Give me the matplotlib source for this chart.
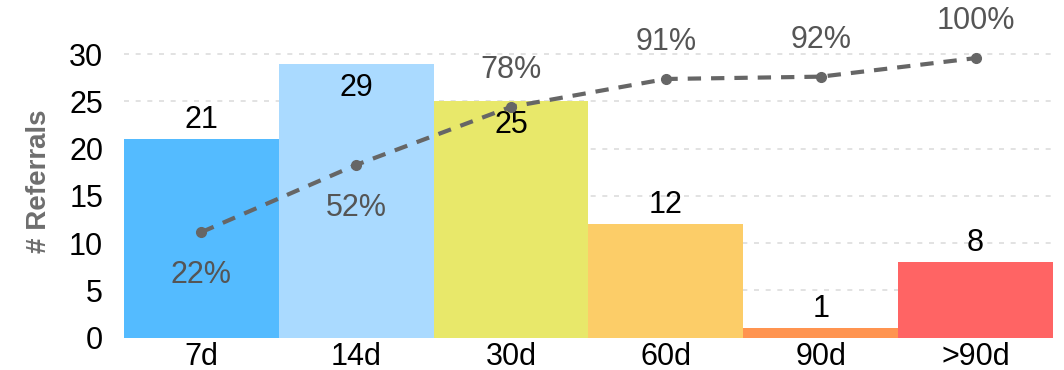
import matplotlib
matplotlib.use("Agg")
import matplotlib.pyplot as plt
import numpy as np

# Referral counts by time bucket
categories = ["7d", "14d", "30d", "60d", "90d", ">90d"]
referrals = [21, 29, 25, 12, 1, 8]
bar_colors = ["#54BBFF", "#AADAFF", "#E8E86A", "#FCCD68", "#FF9450", "#FF6464"]

# Cumulative share of referrals and where each label sits
counts = np.array(referrals, dtype=float)
cumulative = np.cumsum(counts) / counts.sum()
pct_labels = [f"{round(v * 100):d}%" for v in cumulative]
pct_above = [False, False, True, True, True, True]
count_inside = [False, True, True, False, False, False]

plt.rcParams["font.family"] = ["Liberation Sans", "DejaVu Sans"]
FS = 22

fig = plt.figure(figsize=(10.64, 3.70), dpi=100)
ax = fig.add_axes([0.1165, 0.0873, 0.8732, 0.843])

x = np.arange(len(categories))
ax.bar(x, referrals, width=1.0, color=bar_colors, zorder=2)

ax.set_xlim(-0.5, len(categories) - 0.5)
ax.set_ylim(0, 33)
ax.set_yticks([0, 5, 10, 15, 20, 25, 30])
ax.set_xticks(x)
ax.set_xticklabels(categories)
ax.tick_params(axis="both", length=0, labelsize=FS, colors="black")
ax.tick_params(axis="y", pad=15)
ax.tick_params(axis="x", pad=3)
for s in ax.spines.values():
    s.set_visible(False)
for yv in [5, 10, 15, 20, 25, 30]:
    ax.axhline(yv, color="#dddddd", lw=1.2, ls=(0, (3, 4)), zorder=1)

ax.set_ylabel("# Referrals", fontsize=20, color="#6e6e6e", fontweight="bold", labelpad=12)

for xi, v, inside in zip(x, referrals, count_inside):
    off = -24 if inside else 19
    ax.annotate(str(v), (xi, v), xytext=(0, off), textcoords="offset pixels",
                ha="center", va="center", fontsize=FS, color="black", zorder=5)

# Cumulative percentage on a secondary scale
ax2 = ax.twinx()
ax2.set_ylim(-0.255, 1.145)
ax2.set_axis_off()
ax2.plot(x, cumulative, color="#666666", lw=3, ls=(0, (3.2, 2.4)),
         marker="o", markersize=7, zorder=4)
for xi, v, lab, above in zip(x, cumulative, pct_labels, pct_above):
    off = 37 if above else -43
    ax2.annotate(lab, (xi, v), xytext=(0, off), textcoords="offset pixels",
                 ha="center", va="center", fontsize=FS, color="#555555", zorder=5)

fig.savefig("out.png", dpi=100)
